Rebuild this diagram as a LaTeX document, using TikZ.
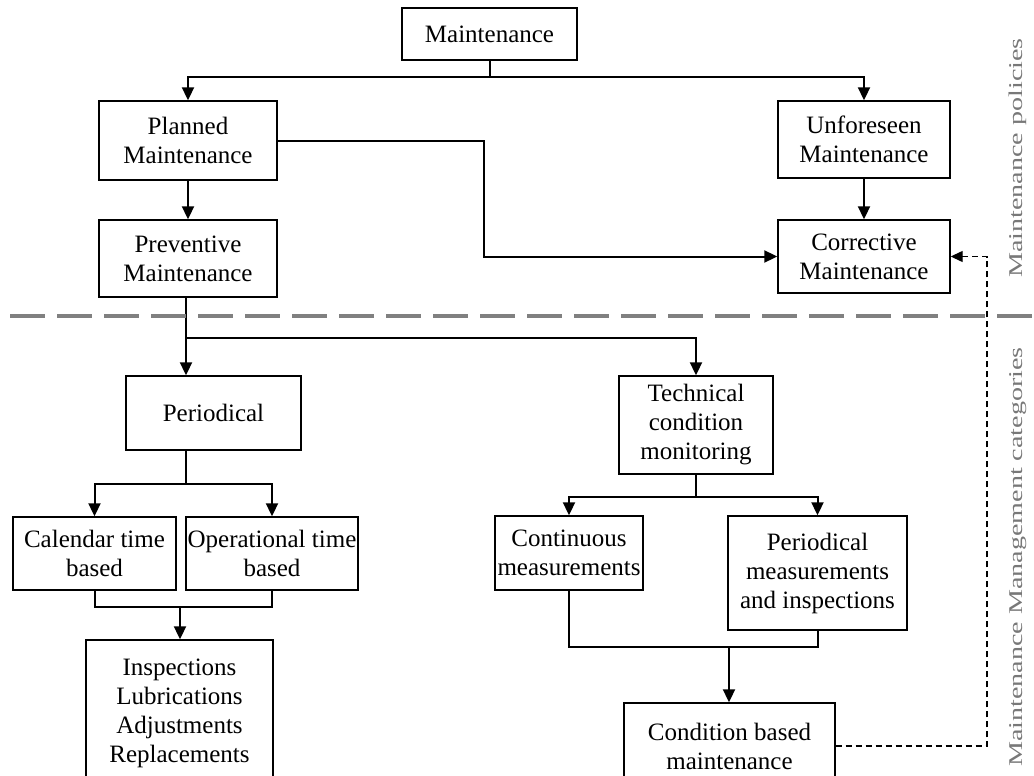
\documentclass[tikz,border=0pt]{standalone}
\usepackage{fontspec}
\setmainfont{Liberation Serif}
\usetikzlibrary{arrows.meta}
\definecolor{sepgray}{RGB}{128,128,128}
\definecolor{labgray}{RGB}{120,120,120}
\begin{document}
\begin{tikzpicture}[x=1pt,y=-1pt,
  box/.style={draw, line width=1.4pt, align=center, inner sep=0pt,
    font=\fontsize{25}{29}\selectfont},
  link/.style={line width=2pt},
  arr/.style={link, -{Triangle[length=13pt,width=12pt]}},
  dlink/.style={line width=1.3pt, dash pattern=on 6pt off 4pt,
    -{Triangle[length=12pt,width=11pt]}},
  sidelabel/.style={rotate=90, text=labgray, font=\fontsize{19.5}{22}\selectfont}
]
\useasboundingbox (0,0) rectangle (1034,776);
\clip (0,0) rectangle (1034,776);

% policy level
\node[box, minimum width=175pt, minimum height=52pt] (maint) at (489.5,34) {Maintenance};
\node[box, minimum width=178pt, minimum height=79pt] (planned) at (188,140.5) {Planned\\Maintenance};
\node[box, minimum width=172pt, minimum height=77pt] (unforeseen) at (864,139.5) {Unforeseen\\Maintenance};
\node[box, minimum width=178pt, minimum height=77pt] (preventive) at (188,258.5) {Preventive\\Maintenance};
\node[box, minimum width=172pt, minimum height=73pt] (corrective) at (864,256.5) {Corrective\\Maintenance};

% category level
\node[box, minimum width=175pt, minimum height=74pt] (periodical) at (213.5,413) {Periodical};
\node[box, minimum width=154pt, minimum height=98pt] (tech) at (696,425) {Technical\\condition\\monitoring};
\node[box, minimum width=163pt, minimum height=73pt] (calendar) at (94.5,553.5) {Calendar time\\based};
\node[box, minimum width=172pt, minimum height=73pt] (operational) at (272,553.5) {Operational time\\based};
\node[box, minimum width=187pt, minimum height=146pt] (tasks) at (179.5,713) {Inspections\\Lubrications\\Adjustments\\Replacements};
\node[box, minimum width=148pt, minimum height=74pt] (continuous) at (569,553) {Continuous\\measurements};
\node[box, minimum width=179pt, minimum height=114pt] (permeas) at (817.5,573) {Periodical\\measurements\\and inspections};
\node[box, minimum width=211pt, minimum height=86pt] (cbm) at (729.5,746) {Condition based\\maintenance};

% junction points
\coordinate (j1) at (489.5,77);
\coordinate (k1) at (484,200);
\coordinate (j2) at (186,338);
\coordinate (j3) at (186,484);
\coordinate (j4) at (180,607);
\coordinate (j5) at (696,497);
\coordinate (j6) at (729,647);
\coordinate (k2) at (987,500);

% connectors
\draw[link] (maint.south) -- (j1);
\draw[arr] (j1) -| (planned.north);
\draw[arr] (j1) -| (unforeseen.north);
\draw[arr] (planned.south) -- (preventive.north);
\draw[arr] (planned.east) -| (k1) |- (corrective.west);
\draw[arr] (unforeseen.south) -- (corrective.north);

\draw[link] (preventive.south -| j2) -- (j2);
\draw[arr] (j2) -- (j2 |- periodical.north);
\draw[arr] (j2) -| (tech.north);

\draw[link] (periodical.south -| j3) -- (j3);
\draw[arr] (j3) -| (calendar.north);
\draw[arr] (j3) -| (operational.north);
\draw[link] (calendar.south) |- (j4) -| (operational.south);
\draw[arr] (j4) -- (j4 |- tasks.north);

\draw[link] (tech.south) -- (j5);
\draw[arr] (j5) -| (continuous.north);
\draw[arr] (j5) -| (permeas.north);
\draw[link] (continuous.south) |- (j6) -| (permeas.south);
\draw[arr] (j6) -- (j6 |- cbm.north);

\draw[dlink] (cbm.east) -| (k2) |- (corrective.east);

% separator between the two levels
\coordinate (sepL) at (10,316);
\coordinate (sepR) at (1034,316);
\draw[sepgray, line width=4.5pt, dash pattern=on 35pt off 12pt] (sepL) -- (sepR);

% side labels
\node[sidelabel] (lpol) at (1018,158) {\scalebox{1.44}[1]{Maintenance policies}};
\node[sidelabel] (lcat) at (1018,557) {\scalebox{1.44}[1]{Maintenance Management categories}};
\end{tikzpicture}
\end{document}
